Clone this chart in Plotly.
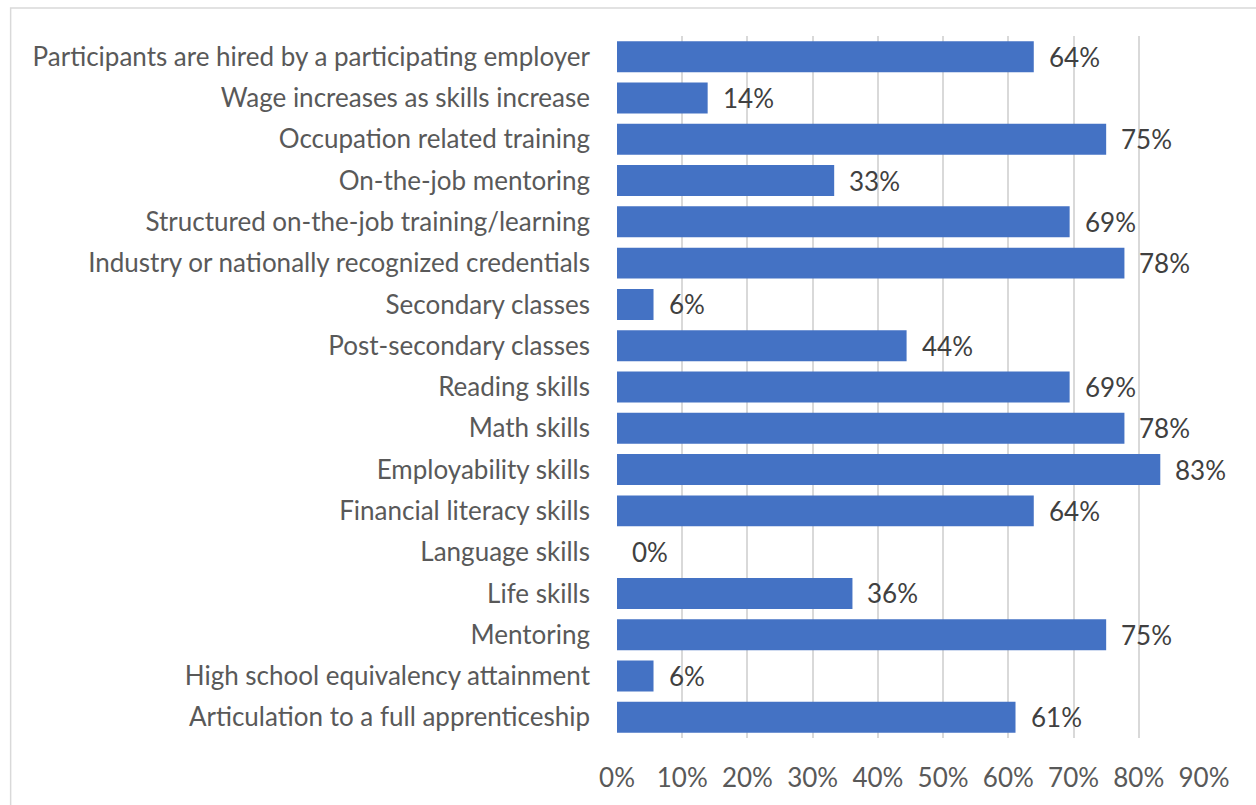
import plotly.graph_objects as go

# survey items, top to bottom as shown
categories = [
    "Participants are hired by a participating employer",
    "Wage increases as skills increase",
    "Occupation related training",
    "On-the-job mentoring",
    "Structured on-the-job training/learning",
    "Industry or nationally recognized credentials",
    "Secondary classes",
    "Post-secondary classes",
    "Reading skills",
    "Math skills",
    "Employability skills",
    "Financial literacy skills",
    "Language skills",
    "Life skills",
    "Mentoring",
    "High school equivalency attainment",
    "Articulation to a full apprenticeship",
]
shares = [0.639, 0.139, 0.750, 0.333, 0.694, 0.778, 0.056, 0.444, 0.694,
          0.778, 0.833, 0.639, 0.0, 0.361, 0.750, 0.056, 0.611]
tick_vals = [i / 10 for i in range(10)]
tick_text = [f"{i * 10}%" for i in range(10)]

FONT = "Lato, 'Open Sans', sans-serif"
FSIZE = 26
BAR_BLUE = "#4472C4"
GRID = "#d9d9d9"

fig = go.Figure()
fig.add_trace(go.Bar(
    x=shares, y=categories, orientation="h",
    marker=dict(color=BAR_BLUE, line=dict(width=0)),
    width=0.75, hoverinfo="x+y",
))

# data labels to the right of each bar
for cat, v in zip(categories, shares):
    fig.add_annotation(
        x=v, y=cat, text=f"{round(v * 100)}%", showarrow=False,
        xanchor="left", xshift=13,
        font=dict(family=FONT, size=FSIZE, color="#404040"),
    )

# chart border (Excel-style frame, only top/left visible)
fig.add_shape(type="rect", xref="paper", yref="paper",
              x0=-1.033, x1=1.3, y0=-0.3, y1=1.04,
              line=dict(color=GRID, width=1.5), layer="below")

fig.update_layout(
    width=1256, height=805,
    margin=dict(l=617, r=52, t=36, b=67, autoexpand=False),
    paper_bgcolor="white", plot_bgcolor="white",
    showlegend=False,
    font=dict(family=FONT, size=FSIZE, color="#595959"),
    bargap=0.25,
)
fig.update_xaxes(
    range=[0, 0.9], tickvals=tick_vals, ticktext=tick_text,
    showgrid=True, gridcolor=GRID, gridwidth=1.5,
    zeroline=False, showline=False, ticks="",
    ticklabelstandoff=22, fixedrange=True, automargin=False,
    tickfont=dict(family=FONT, size=FSIZE, color="#595959"),
)
fig.update_yaxes(
    autorange="reversed", showgrid=False, zeroline=False,
    showline=False, ticks="", ticklabelstandoff=26, automargin=False,
    tickfont=dict(family=FONT, size=FSIZE, color="#595959"),
)

# drop the default page margin so the figure sits at the window corner
fig.write_html("out.html", config={"displayModeBar": False},
               post_script="document.body.style.margin='0';")
